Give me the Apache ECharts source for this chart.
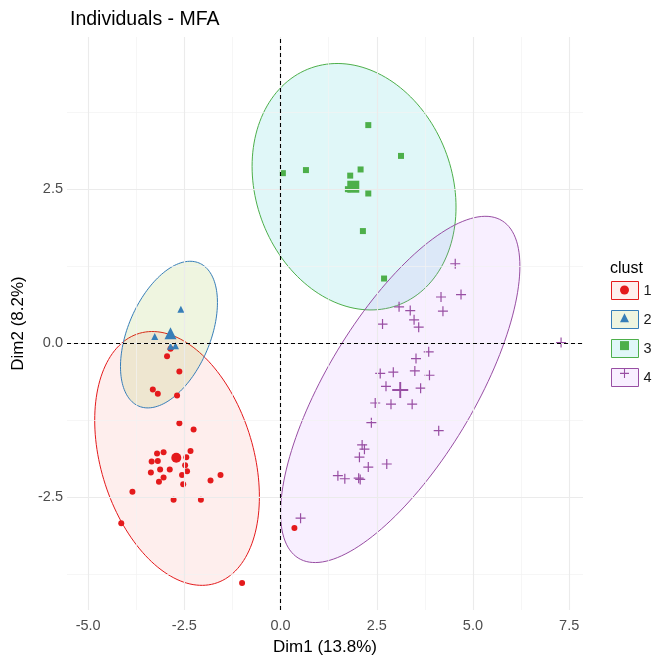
<!DOCTYPE html>
<html><head><meta charset="utf-8">
<script src="https://cdn.jsdelivr.net/npm/echarts@6/dist/echarts.min.js"></script>
<style>html,body{margin:0;padding:0;background:#fff}#c{width:653px;height:657px}</style>
</head><body><div id="c"></div>
<script>
// ---- data ----
const clusterNames = ['1', '2', '3', '4'];

const c1x = [-2.86,-2.95,-2.63,-3.32,-3.19,-2.69,-2.63,-2.26,-3.21,-3.04,-2.34,-3.35,-3.19,-2.45,-2.48,-3.13,-2.88,-2.43,-3.37,-2.56,-3.04,-3.16,-1.56,-1.82,-2.53,-3.85,-2.78,-2.07,-4.14,-1.00,0.36];
const c1y = [-0.09,-0.21,-0.46,-0.75,-0.82,-0.85,-1.30,-1.40,-1.79,-1.77,-1.75,-1.92,-1.91,-1.85,-1.98,-2.05,-2.05,-2.08,-2.10,-2.14,-2.18,-2.25,-2.14,-2.23,-2.29,-2.41,-2.54,-2.54,-2.92,-3.89,-3.00];

const c2x = [-2.59,-3.27,-2.86,-2.73];
const c2y = [0.55,0.11,-0.05,-0.04];

const c3x = [2.28,3.13,0.06,0.66,2.08,1.81,1.75,2.28,2.14,2.69];
const c3y = [3.54,3.04,2.76,2.81,2.82,2.72,2.50,2.43,1.82,1.05];

const c4x = [4.54,4.17,4.69,4.22,3.08,3.37,3.47,3.59,2.65,7.29,3.85,3.52,2.59,2.93,3.49,3.87,2.74,3.64,2.46,2.87,3.42,2.36,4.11,2.12,2.18,2.05,2.28,2.76,1.49,1.67,2.03,2.07,0.52];
const c4y = [1.29,0.75,0.79,0.52,0.59,0.53,0.38,0.26,0.31,0.01,-0.14,-0.25,-0.49,-0.47,-0.45,-0.52,-0.70,-0.73,-0.97,-0.99,-0.99,-1.29,-1.42,-1.65,-1.72,-1.85,-2.01,-1.96,-2.15,-2.20,-2.19,-2.21,-2.84];

const centroidX = [-2.71,-2.86,1.89,3.11];
const centroidY = [-1.86,0.16,2.54,-0.76];

// ellipse parameters (data units): centre, half-width in x, half-height in y, y-offset at the rightmost point
const ellCx = [-2.69,-2.90,1.91,3.11];
const ellCy = [-1.87,0.14,2.54,-0.75];
const ellHalfW = [2.14,1.26,2.65,3.11];
const ellHalfH = [2.06,1.19,2.00,2.81];
const ellYAtRight = [-0.62,0.52,-0.33,2.00];

const xTicks = [-5,-2.5,0,2.5,5,7.5];
const xMinor = [-3.75,-1.25,1.25,3.75,6.25];
const yTicks = [-2.5,0,2.5];
const yMinor = [-3.75,-1.25,1.25,3.75];

// ---- styles ----
const FONT = "'Liberation Sans', Arial, sans-serif";
const lineColors = ['#E41A1C','#377EB8','#4DAF4A','#984EA3'];
const fillColors = ['rgba(248,118,109,0.12)','rgba(124,174,0,0.12)','rgba(0,191,196,0.12)','rgba(199,124,255,0.12)'];
const crossPath = 'path://M4.4,0L5.6,0L5.6,4.4L10,4.4L10,5.6L5.6,5.6L5.6,10L4.4,10L4.4,5.6L0,5.6L0,4.4L4.4,4.4Z';
const symbols = ['circle','triangle','rect',crossPath];
const ptSize = [6,7,6,10];
const cenSize = [10,12,12,16];

const xs = [c1x,c2x,c3x,c4x];
const ys = [c1y,c2y,c3y,c4y];

const series = [];

// grid lines
series.push({
  type: 'line', data: [], z: 0, silent: true,
  markLine: {
    silent: true, symbol: ['none','none'], label: {show: false}, animation: false,
    data: [
      ...xMinor.map(v => ({xAxis: v, lineStyle: {color: '#f2f2f2', width: 0.7, type: 'solid'}})),
      ...yMinor.map(v => ({yAxis: v, lineStyle: {color: '#f2f2f2', width: 0.7, type: 'solid'}})),
      ...xTicks.map(v => ({xAxis: v, lineStyle: {color: '#ebebeb', width: 1.1, type: 'solid'}})),
      ...yTicks.map(v => ({yAxis: v, lineStyle: {color: '#ebebeb', width: 1.1, type: 'solid'}}))
    ]
  }
});

// ellipses
for (let k = 0; k < 4; k++) {
  series.push({
    name: clusterNames[k],
    type: 'custom',
    z: 1,
    silent: true,
    itemStyle: {color: fillColors[k], borderColor: lineColors[k], borderWidth: 1},
    encode: {x: 0, y: 1},
    data: [[ellCx[k], ellCy[k], ellHalfW[k], ellHalfH[k], ellYAtRight[k]]],
    renderItem: function (params, api) {
      const cx = api.value(0), cy = api.value(1), w = api.value(2), h = api.value(3), yr = api.value(4);
      const phi = Math.acos(Math.max(-1, Math.min(1, yr / h)));
      const pts = [];
      const N = 160;
      for (let i = 0; i < N; i++) {
        const t = 2 * Math.PI * i / N;
        pts.push(api.coord([cx + w * Math.cos(t), cy + h * Math.cos(t + phi)]));
      }
      return {type: 'polygon', shape: {points: pts}, style: {fill: fillColors[k], stroke: lineColors[k], lineWidth: 1}};
    }
  });
}

// dashed reference lines
series.push({
  type: 'line', data: [], z: 3, silent: true,
  markLine: {
    silent: true, symbol: ['none','none'], label: {show: false}, animation: false,
    lineStyle: {color: '#000', width: 1.1, type: [4,3]},
    data: [{xAxis: 0}, {yAxis: 0}]
  }
});

// points
for (let k = 0; k < 4; k++) {
  const data = xs[k].map((x, i) => [x, ys[k][i]]);
  data.push({value: [centroidX[k], centroidY[k]], symbolSize: cenSize[k]});
  series.push({
    name: 'p' + clusterNames[k],
    type: 'scatter',
    z: 4,
    symbol: symbols[k],
    symbolSize: ptSize[k],
    itemStyle: {color: lineColors[k], opacity: 1},
    data: data
  });
}

const chart = echarts.init(document.getElementById('c'), null, {renderer: 'canvas'});
chart.setOption({
  animation: false,
  backgroundColor: '#fff',
  title: [
    {text: 'Individuals - MFA', left: 70, top: 10, padding: 0,
     textStyle: {fontFamily: FONT, fontSize: 19.5, fontWeight: 'normal', color: '#000'}},
    {text: 'clust', left: 610, top: 261, padding: 0,
     textStyle: {fontFamily: FONT, fontSize: 16, fontWeight: 'normal', color: '#000'}}
  ],
  legend: [
    {
      data: clusterNames.map((n, k) => ({name: n, icon: 'rect',
        itemStyle: {color: fillColors[k], borderColor: lineColors[k], borderWidth: 1}})),
      orient: 'vertical', left: 611, top: 281, padding: 0,
      itemWidth: 27, itemHeight: 18, itemGap: 10, selectedMode: false,
      textStyle: {fontFamily: FONT, fontSize: 14.5, color: '#1a1a1a', lineHeight: 18}
    },
    {
      data: clusterNames.map((n, k) => ({name: 'p' + n, icon: symbols[k]})),
      orient: 'vertical', left: 620, top: 285.5, padding: 0,
      itemWidth: 9, itemHeight: 9, itemGap: 18.8, selectedMode: false,
      formatter: function () { return ''; },
      textStyle: {fontSize: 8, lineHeight: 9}
    }
  ],
  grid: {left: 67, right: 70, top: 37, bottom: 47, containLabel: false, outerBoundsMode: 'none'},
  xAxis: {
    type: 'value', min: -5.55, max: 7.86,
    splitLine: {show: false}, axisLine: {show: false}, axisTick: {show: false},
    axisLabel: {customValues: xTicks, formatter: v => v.toFixed(1), color: '#4d4d4d',
      fontSize: 14.5, fontFamily: FONT, margin: 8},
    name: 'Dim1 (13.8%)', nameLocation: 'middle', nameGap: 29,
    nameTextStyle: {fontFamily: FONT, fontSize: 17, color: '#000'}
  },
  yAxis: {
    type: 'value', min: -4.33, max: 4.97,
    splitLine: {show: false}, axisLine: {show: false}, axisTick: {show: false},
    axisLabel: {customValues: yTicks, formatter: v => v.toFixed(1), color: '#4d4d4d',
      fontSize: 14.5, fontFamily: FONT, margin: 4},
    name: 'Dim2 (8.2%)', nameLocation: 'middle', nameGap: 35, nameRotate: 90,
    nameTextStyle: {fontFamily: FONT, fontSize: 17, color: '#000'}
  },
  series: series
});
</script>
</body></html>
